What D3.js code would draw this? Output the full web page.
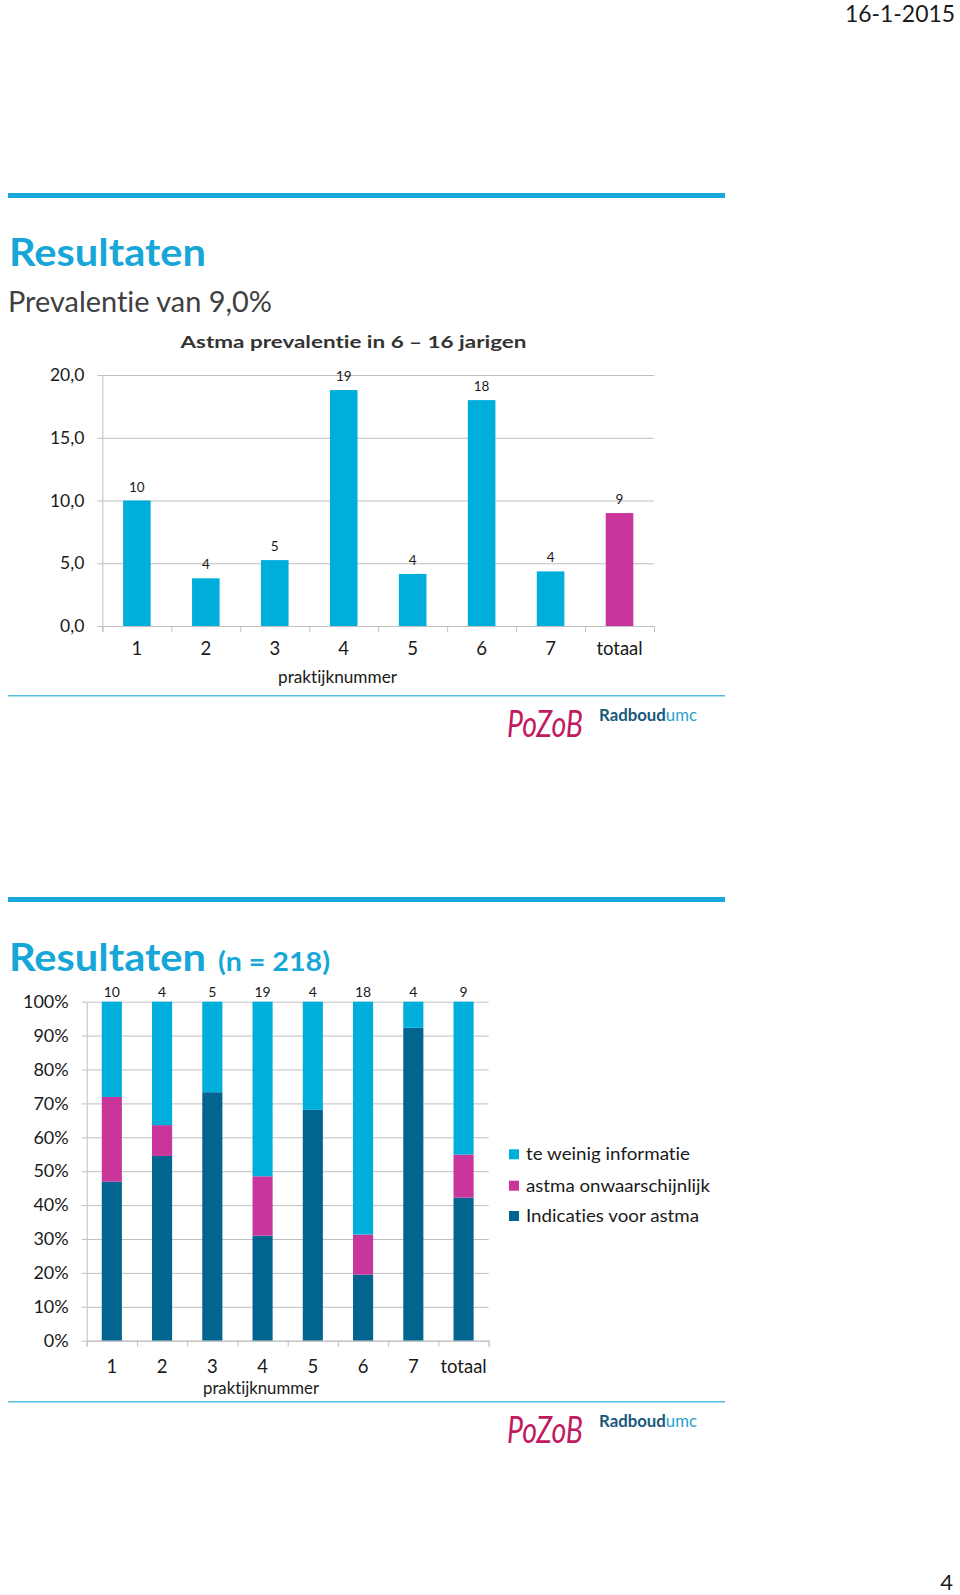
<!DOCTYPE html>
<html><head><meta charset="utf-8">
<script src="https://cdn.jsdelivr.net/npm/d3@7"></script>
<style>
body{margin:0;background:#fff}
svg{display:block}
text{font-family:Lato,'Open Sans',sans-serif;font-variant-ligatures:none;font-feature-settings:"liga" 0,"clig" 0}
</style>
</head><body>
<svg id="c" width="960" height="1595"></svg>
<script>
// ---------- data ----------
const categories = ["1","2","3","4","5","6","7","totaal"];
const prevalence = [10.0, 3.8, 5.25, 18.8, 4.15, 18.0, 4.35, 9.0];
const prevalenceLabels = ["10","4","5","19","4","18","4","9"];
const yTicks1 = [0, 5, 10, 15, 20];

const indicaties = [46.9, 54.5, 73.3, 31.0, 68.1, 19.5, 92.3, 42.2];
const onwaarschijnlijk = [25.0, 9.1, 0, 17.5, 0, 11.8, 0, 12.7];
const weinigInfo = [28.1, 36.4, 26.7, 51.5, 31.9, 68.7, 7.7, 45.1];
const stackLabels = ["10","4","5","19","4","18","4","9"];
const yTicks2 = [0,10,20,30,40,50,60,70,80,90,100];
const legendNames = ["te weinig informatie","astma onwaarschijnlijk","Indicaties voor astma"];

// ---------- style ----------
const C_BLUE = "#00AEDB", C_MAG = "#C9359A", C_DARK = "#02658F";
const C_TITLE = "#16A6D8", C_GRID = "#BFBFBF", C_TXT = "#1a1a1a";

const svg = d3.select("#c");

// header / decorations
svg.append("text").attr("x",955).attr("y",21.5).attr("text-anchor","end")
  .attr("font-size",23.5).attr("fill",C_TXT).attr("textLength",110).attr("lengthAdjust","spacingAndGlyphs").text("16-1-2015");
svg.append("text").attr("x",953).attr("y",1590).attr("text-anchor","end")
  .attr("font-size",22).attr("fill",C_TXT).text("4");

function bigLine(y){ svg.append("rect").attr("x",8).attr("y",y-2.5).attr("width",717).attr("height",5).attr("fill","#18A9DA"); }
function thinLine(y){ svg.append("line").attr("x1",8).attr("x2",725).attr("y1",y).attr("y2",y).attr("stroke","#55BEE0").attr("stroke-width",1.5); }
function logos(yLine){
  svg.append("text").attr("x",507).attr("y",yLine+41).attr("font-size",36)
    .attr("font-family","'DejaVu Serif',serif").attr("font-style","italic")
    .attr("fill","#C01B5F").attr("textLength",76).attr("lengthAdjust","spacingAndGlyphs").text("PoZoB");
  const t = svg.append("text").attr("x",599).attr("y",yLine+25).attr("font-size",17)
    .attr("font-family","'Liberation Serif',serif").attr("font-weight","bold")
    .attr("textLength",98).attr("lengthAdjust","spacingAndGlyphs");
  t.append("tspan").attr("fill","#1B587A").text("Radboud");
  t.append("tspan").attr("fill","#2AA2C9").attr("font-weight","normal").text("umc");
}

bigLine(195.5);
svg.append("text").attr("x",9).attr("y",266).attr("font-size",38).attr("font-weight","bold")
  .attr("fill",C_TITLE).attr("textLength",197).attr("lengthAdjust","spacingAndGlyphs").text("Resultaten");
svg.append("text").attr("x",8).attr("y",311.5).attr("font-size",28)
  .attr("fill","#404040").attr("textLength",264).attr("lengthAdjust","spacingAndGlyphs").text("Prevalentie van 9,0%");
svg.append("text").attr("x",180.5).attr("y",348.3).attr("font-size",17.5).attr("font-weight","bold")
  .attr("fill","#333").attr("textLength",346).attr("lengthAdjust","spacingAndGlyphs").text("Astma prevalentie in 6 \u2013 16 jarigen");

// ---------- chart 1 ----------
{
  const x0 = 102.4, x1 = 654, yB = 626, yT = 375;
  const x = d3.scaleBand().domain(categories).range([x0,x1]).paddingInner(0.6).paddingOuter(0.3);
  const y = d3.scaleLinear().domain([0,20]).range([yB,yT]);
  const g = svg.append("g");

  g.append("g").attr("transform",`translate(${x0},0)`)
    .call(d3.axisLeft(y).tickValues(yTicks1).tickSize(-(x1-x0)).tickFormat(""))
    .call(s=>{s.select(".domain").remove(); s.selectAll("line").attr("stroke",C_GRID);});
  g.append("g").attr("transform",`translate(${x0},0)`)
    .call(d3.axisLeft(y).tickValues(yTicks1).tickSize(5).tickSizeOuter(0).tickPadding(13)
      .tickFormat(d=>d.toFixed(1).replace(".",",")))
    .call(s=>{s.select(".domain").attr("stroke",C_GRID); s.selectAll("line").attr("stroke",C_GRID);
      s.selectAll("text").attr("font-size",17.5).attr("fill",C_TXT).attr("font-family","Lato,sans-serif");});
  g.selectAll("rect.b").data(categories).join("rect").attr("class","b")
    .attr("x",d=>x(d)).attr("width",x.bandwidth())
    .attr("y",(d,i)=>y(prevalence[i])).attr("height",(d,i)=>yB-y(prevalence[i]))
    .attr("fill",(d,i)=>d==="totaal"?C_MAG:C_BLUE);
  g.selectAll("text.l").data(categories).join("text").attr("class","l")
    .attr("x",d=>x(d)+x.bandwidth()/2).attr("y",(d,i)=>y(prevalence[i])-9)
    .attr("text-anchor","middle").attr("font-size",13.5).attr("fill",C_TXT)
    .text((d,i)=>prevalenceLabels[i]);
  const xb = d3.scaleLinear().domain([0,categories.length]).range([x0,x1]);
  g.append("g").attr("transform",`translate(0,${yB})`)
    .call(d3.axisBottom(xb).ticks(categories.length).tickFormat("").tickSize(6).tickSizeOuter(6))
    .call(s=>{s.select(".domain").attr("stroke",C_GRID); s.selectAll("line").attr("stroke",C_GRID);});
  g.append("g").attr("transform",`translate(0,${yB})`)
    .call(d3.axisBottom(x).tickSize(0).tickPadding(16))
    .call(s=>{s.select(".domain").remove();
      s.selectAll("text").attr("font-size",18.5).attr("fill",C_TXT).attr("font-family","Lato,sans-serif");});
  g.append("text").attr("x",337.5).attr("y",683).attr("text-anchor","middle")
    .attr("font-size",16.5).attr("fill",C_TXT).attr("textLength",119).attr("lengthAdjust","spacingAndGlyphs").text("praktijknummer");
}
thinLine(695.7);
logos(695.7);

// ---------- section 2 ----------
bigLine(899.5);
svg.append("text").attr("x",9).attr("y",970.5).attr("font-weight","bold").attr("fill",C_TITLE)
  .attr("font-size",38).attr("textLength",197).attr("lengthAdjust","spacingAndGlyphs").text("Resultaten");
svg.append("text").attr("x",218).attr("y",970.5).attr("font-weight","bold").attr("fill",C_TITLE)
  .attr("font-size",26).attr("textLength",112).attr("lengthAdjust","spacingAndGlyphs").text("(n = 218)");
{
  const x0 = 86.7, x1 = 488.7, yB = 1340.7, yT = 1001.7;
  const x = d3.scaleBand().domain(categories).range([x0,x1]).paddingInner(0.6).paddingOuter(0.3);
  const y = d3.scaleLinear().domain([0,100]).range([yB,yT]);
  const g = svg.append("g");
  g.append("g").attr("transform",`translate(${x0},0)`)
    .call(d3.axisLeft(y).tickValues(yTicks2).tickSize(-(x1-x0)).tickFormat(""))
    .call(s=>{s.select(".domain").remove(); s.selectAll("line").attr("stroke",C_GRID);});
  g.append("g").attr("transform",`translate(${x0},0)`)
    .call(d3.axisLeft(y).tickValues(yTicks2).tickSize(5).tickSizeOuter(0).tickPadding(13).tickFormat(d=>d+"%"))
    .call(s=>{s.select(".domain").attr("stroke",C_GRID); s.selectAll("line").attr("stroke",C_GRID);
      s.selectAll("text").attr("font-size",18).attr("fill",C_TXT).attr("font-family","Lato,sans-serif");});

  const rows = categories.map((c,i)=>({cat:c, ind:indicaties[i], onw:onwaarschijnlijk[i], wei:weinigInfo[i]}));
  const keys = ["ind","onw","wei"];
  const colors = {ind:C_DARK, onw:C_MAG, wei:C_BLUE};
  const stacked = d3.stack().keys(keys)(rows);
  g.selectAll("g.s").data(stacked).join("g").attr("class","s").attr("fill",d=>colors[d.key])
    .selectAll("rect").data(d=>d).join("rect")
    .attr("x",d=>x(d.data.cat)).attr("width",x.bandwidth())
    .attr("y",d=>y(d[1])).attr("height",d=>y(d[0])-y(d[1]));
  g.selectAll("text.l").data(categories).join("text").attr("class","l")
    .attr("x",d=>x(d)+x.bandwidth()/2).attr("y",996.8)
    .attr("text-anchor","middle").attr("font-size",14).attr("fill",C_TXT)
    .text((d,i)=>stackLabels[i]);

  const xb = d3.scaleLinear().domain([0,categories.length]).range([x0,x1]);
  g.append("g").attr("transform",`translate(0,${yB})`)
    .call(d3.axisBottom(xb).ticks(categories.length).tickFormat("").tickSize(6).tickSizeOuter(6))
    .call(s=>{s.select(".domain").attr("stroke",C_GRID); s.selectAll("line").attr("stroke",C_GRID);});
  g.append("g").attr("transform",`translate(0,${yB})`)
    .call(d3.axisBottom(x).tickSize(0).tickPadding(19))
    .call(s=>{s.select(".domain").remove();
      s.selectAll("text").attr("font-size",18.5).attr("fill",C_TXT).attr("font-family","Lato,sans-serif");});
  g.append("text").attr("x",261).attr("y",1393.5).attr("text-anchor","middle")
    .attr("font-size",16.5).attr("fill",C_TXT).attr("textLength",116).attr("lengthAdjust","spacingAndGlyphs").text("praktijknummer");

  const lg = svg.append("g");
  const lcol = [C_BLUE, C_MAG, C_DARK];
  const ly = [1154.3, 1185.7, 1216];
  const lw = [164, 184, 173];
  legendNames.forEach((n,i)=>{
    lg.append("rect").attr("x",509).attr("y",ly[i]-5).attr("width",10).attr("height",10).attr("fill",lcol[i]);
    lg.append("text").attr("x",526).attr("y",ly[i]+6).attr("font-size",17.5).attr("fill",C_TXT)
      .attr("textLength",lw[i]).attr("lengthAdjust","spacingAndGlyphs").text(n);
  });
}
thinLine(1401.7);
logos(1401.7);
</script>
</body></html>
